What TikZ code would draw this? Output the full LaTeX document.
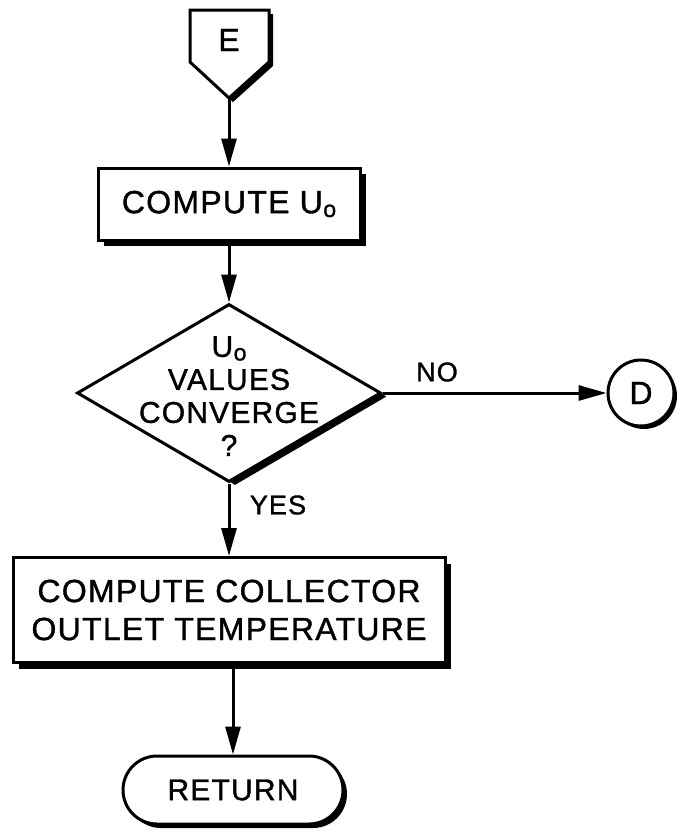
\documentclass[tikz,border=0pt]{standalone}
\usepackage{fontspec}
\setmainfont{Liberation Sans}[LetterSpace=4, FakeBold=1.2]
\usetikzlibrary{arrows.meta,shapes.geometric,shapes.misc,shadows}

% U with a lowered small o
\newcommand{\Uo}{U\kern0.5pt\raisebox{-0.12em}{\fontsize{23}{23}\selectfont o}}

\tikzset{
  hardshadow/.style 2 args={drop shadow={shadow xshift=#1, shadow yshift=#2, opacity=1, fill=black}},
  proc/.style={draw, fill=white, line width=3pt, inner sep=0pt, hardshadow={6pt}{-6pt}},
  dec/.style={diamond, draw, fill=white, line width=3pt, inner sep=0pt, hardshadow={6pt}{-3.5pt}},
  term/.style={rounded rectangle, draw, fill=white, line width=3pt, inner sep=0pt, hardshadow={4pt}{-4pt}},
  conn/.style={circle, draw, fill=white, line width=3pt, inner sep=0pt, hardshadow={3pt}{-3pt}},
  flow/.style={line width=3pt, -{Triangle[length=28pt,width=15pt]}},
  lbl/.style={font=\fontsize{27}{30}\selectfont}
}

\begin{document}
\begin{tikzpicture}[x=1pt, y=-1pt, font=\fontsize{32}{38}\selectfont]
  \useasboundingbox (0,0) rectangle (677,833);

  % off-page connector E
  \filldraw[fill=white, line width=3pt, line join=miter, hardshadow={4pt}{-4pt}]
    (190,10) -- (269,10) -- (269,62) -- (229,98) -- (190,62) -- cycle;
  \node (E) at (229,40) {E};
  \coordinate (etip) at (229,98);

  % process boxes
  \node[proc, minimum width=262pt, minimum height=72pt] (u0) at (229,204) {COMPUTE \Uo};
  \node[proc, minimum width=432pt, minimum height=105pt, align=center] (outlet) at (229,610)
    {COMPUTE COLLECTOR\\OUTLET TEMPERATURE};

  % decision
  \node[dec, minimum width=304pt, minimum height=178pt] (conv) at (229,393) {};
  \node[align=center, font=\fontsize{30}{33}\selectfont] (convtext) at (229,396)
    {\Uo\\VALUES\\CONVERGE\\?};

  % terminal and on-page connector
  \node[term, minimum width=220pt, minimum height=68pt, font=\fontsize{30}{36}\selectfont]
    (ret) at (233,790) {RETURN};
  \node[conn, minimum size=66pt] (D) at (641,393) {D};

  % branch labels
  \node[lbl] (no) at (437,372) {NO};
  \node[lbl] (yes) at (278,505) {YES};

  % flow lines
  \draw[flow] (etip) -- (etip |- u0.north);
  \draw[flow] (u0.south) -- (conv.north);
  \draw[flow] (conv.south) -- (outlet.north);
  \draw[flow] (ret.north |- outlet.south) -- (ret.north);
  \draw[flow] (conv.east) -- (D.west);
\end{tikzpicture}
\end{document}
